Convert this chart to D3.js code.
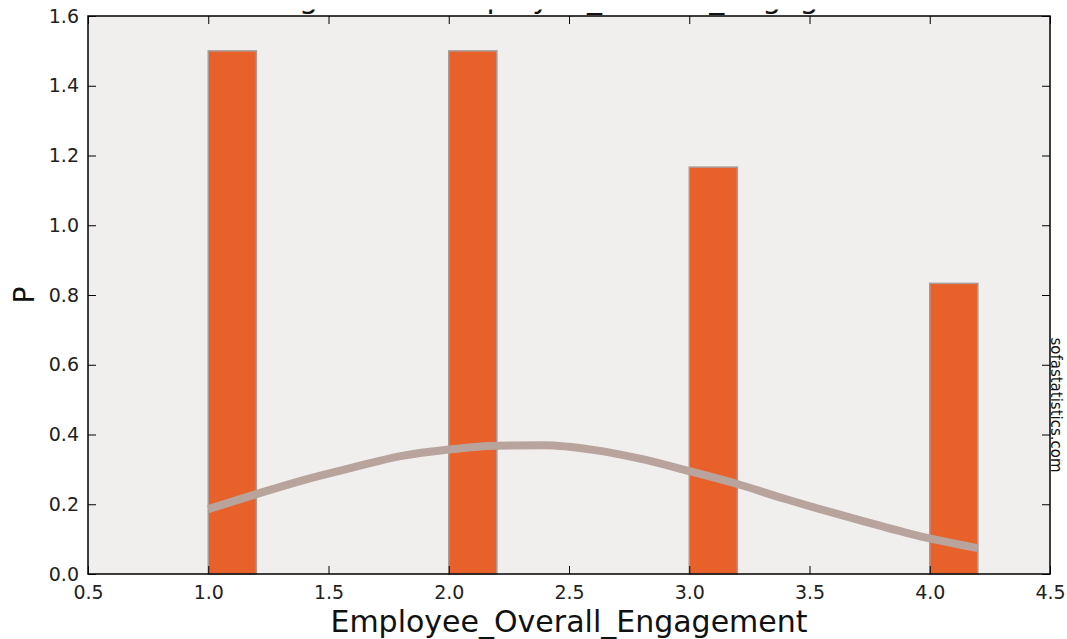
<!DOCTYPE html>
<html>
<head>
<meta charset="utf-8">
<script src="https://cdn.jsdelivr.net/npm/d3@7"></script>
<style>
html,body{margin:0;padding:0;background:#fff;}
svg{display:block;font-family:"DejaVu Sans",sans-serif;}
</style>
</head>
<body>
<svg id="chart" width="1067" height="639"></svg>
<script>
const binStarts = [1.0, 2.0, 3.0, 4.0];
const binWidth = 0.2;
const binValues = [1.5, 1.5, 1.1667, 0.8333];
const curveX = [1.0, 1.2, 1.4, 1.6, 1.8, 2.0, 2.2, 2.4, 2.6, 2.8, 3.0, 3.2, 3.4, 3.6, 3.8, 4.0, 4.2];
const curveY = [0.186, 0.229, 0.270, 0.305, 0.338, 0.357, 0.368, 0.369, 0.356, 0.330, 0.295, 0.258, 0.215, 0.175, 0.137, 0.102, 0.074];
const xTicks = [0.5, 1.0, 1.5, 2.0, 2.5, 3.0, 3.5, 4.0, 4.5];
const yTicks = [0.0, 0.2, 0.4, 0.6, 0.8, 1.0, 1.2, 1.4, 1.6];
const titleText = "Histogram for Employee_Overall_Engagement";
const xLabel = "Employee_Overall_Engagement";
const yLabel = "P";
const watermark = "sofastatistics.com";

const svg = d3.select("#chart");
const L = 88, R = 1050, T = 16, B = 574;
const x = d3.scaleLinear().domain([0.5, 4.5]).range([L, R]);
const y = d3.scaleLinear().domain([0, 1.6]).range([B, T]);

svg.append("defs").append("clipPath").attr("id", "titleclip")
  .append("rect").attr("x", 0).attr("y", 9.5).attr("width", 1067).attr("height", 7);

svg.append("rect").attr("x", L).attr("y", T).attr("width", R - L).attr("height", B - T).attr("fill", "#f0efee");

// bars
svg.append("g").selectAll("rect").data(binStarts).join("rect")
  .attr("x", d => x(d))
  .attr("width", d => x(d + binWidth) - x(d))
  .attr("y", (d, i) => y(binValues[i]))
  .attr("height", (d, i) => y(0) - y(binValues[i]))
  .attr("fill", "#e8602a")
  .attr("stroke", "#a89c98")
  .attr("stroke-width", 1.5);

// normal curve
const line = d3.line().x(d => x(d[0])).y(d => y(d[1])).curve(d3.curveMonotoneX);
svg.append("path").datum(curveX.map((v, i) => [v, curveY[i]]))
  .attr("d", line).attr("fill", "none")
  .attr("stroke", "#b8a49d").attr("stroke-width", 8);

// axes (ticks inward)
const tl = 8;
const fmt = d3.format(".1f");
const axB = svg.append("g").attr("transform", `translate(0,${B})`)
  .call(d3.axisBottom(x).tickValues(xTicks).tickFormat(fmt).tickSizeInner(-tl).tickSizeOuter(0).tickPadding(tl + 4));
const axT = svg.append("g").attr("transform", `translate(0,${T})`)
  .call(d3.axisTop(x).tickValues(xTicks).tickFormat("").tickSizeInner(-tl).tickSizeOuter(0));
const axL = svg.append("g").attr("transform", `translate(${L},0)`)
  .call(d3.axisLeft(y).tickValues(yTicks).tickFormat(fmt).tickSizeInner(-tl).tickSizeOuter(0).tickPadding(tl + 1));
const axR = svg.append("g").attr("transform", `translate(${R},0)`)
  .call(d3.axisRight(y).tickValues(yTicks).tickFormat("").tickSizeInner(-tl).tickSizeOuter(0));
[axB, axT, axL, axR].forEach(a => {
  a.select(".domain").remove();
  a.selectAll("line").attr("stroke", "#000").attr("stroke-width", 1);
  a.selectAll("text").attr("font-family", "DejaVu Sans").attr("font-size", 19).attr("fill", "#222");
});

// frame
svg.append("rect").attr("x", L).attr("y", T).attr("width", R - L).attr("height", B - T)
  .attr("fill", "none").attr("stroke", "#000").attr("stroke-width", 1.5);

// labels
svg.append("text").attr("x", (L + R) / 2).attr("y", 632).attr("text-anchor", "middle")
  .attr("font-size", 30).attr("fill", "#111").text(xLabel);
svg.append("text").attr("transform", `translate(34,${(T + B) / 2}) rotate(-90)`).attr("text-anchor", "middle")
  .attr("font-size", 28).attr("fill", "#111").text(yLabel);
svg.append("text").attr("x", (L + R) / 2).attr("y", 8).attr("text-anchor", "middle")
  .attr("clip-path", "url(#titleclip)")
  .attr("font-size", 30).attr("fill", "#111").text(titleText);
svg.append("text").attr("transform", `translate(1051,${405}) rotate(90)`).attr("text-anchor", "middle")
  .attr("font-size", 15).attr("fill", "#111").text(watermark);
</script>
</body>
</html>
